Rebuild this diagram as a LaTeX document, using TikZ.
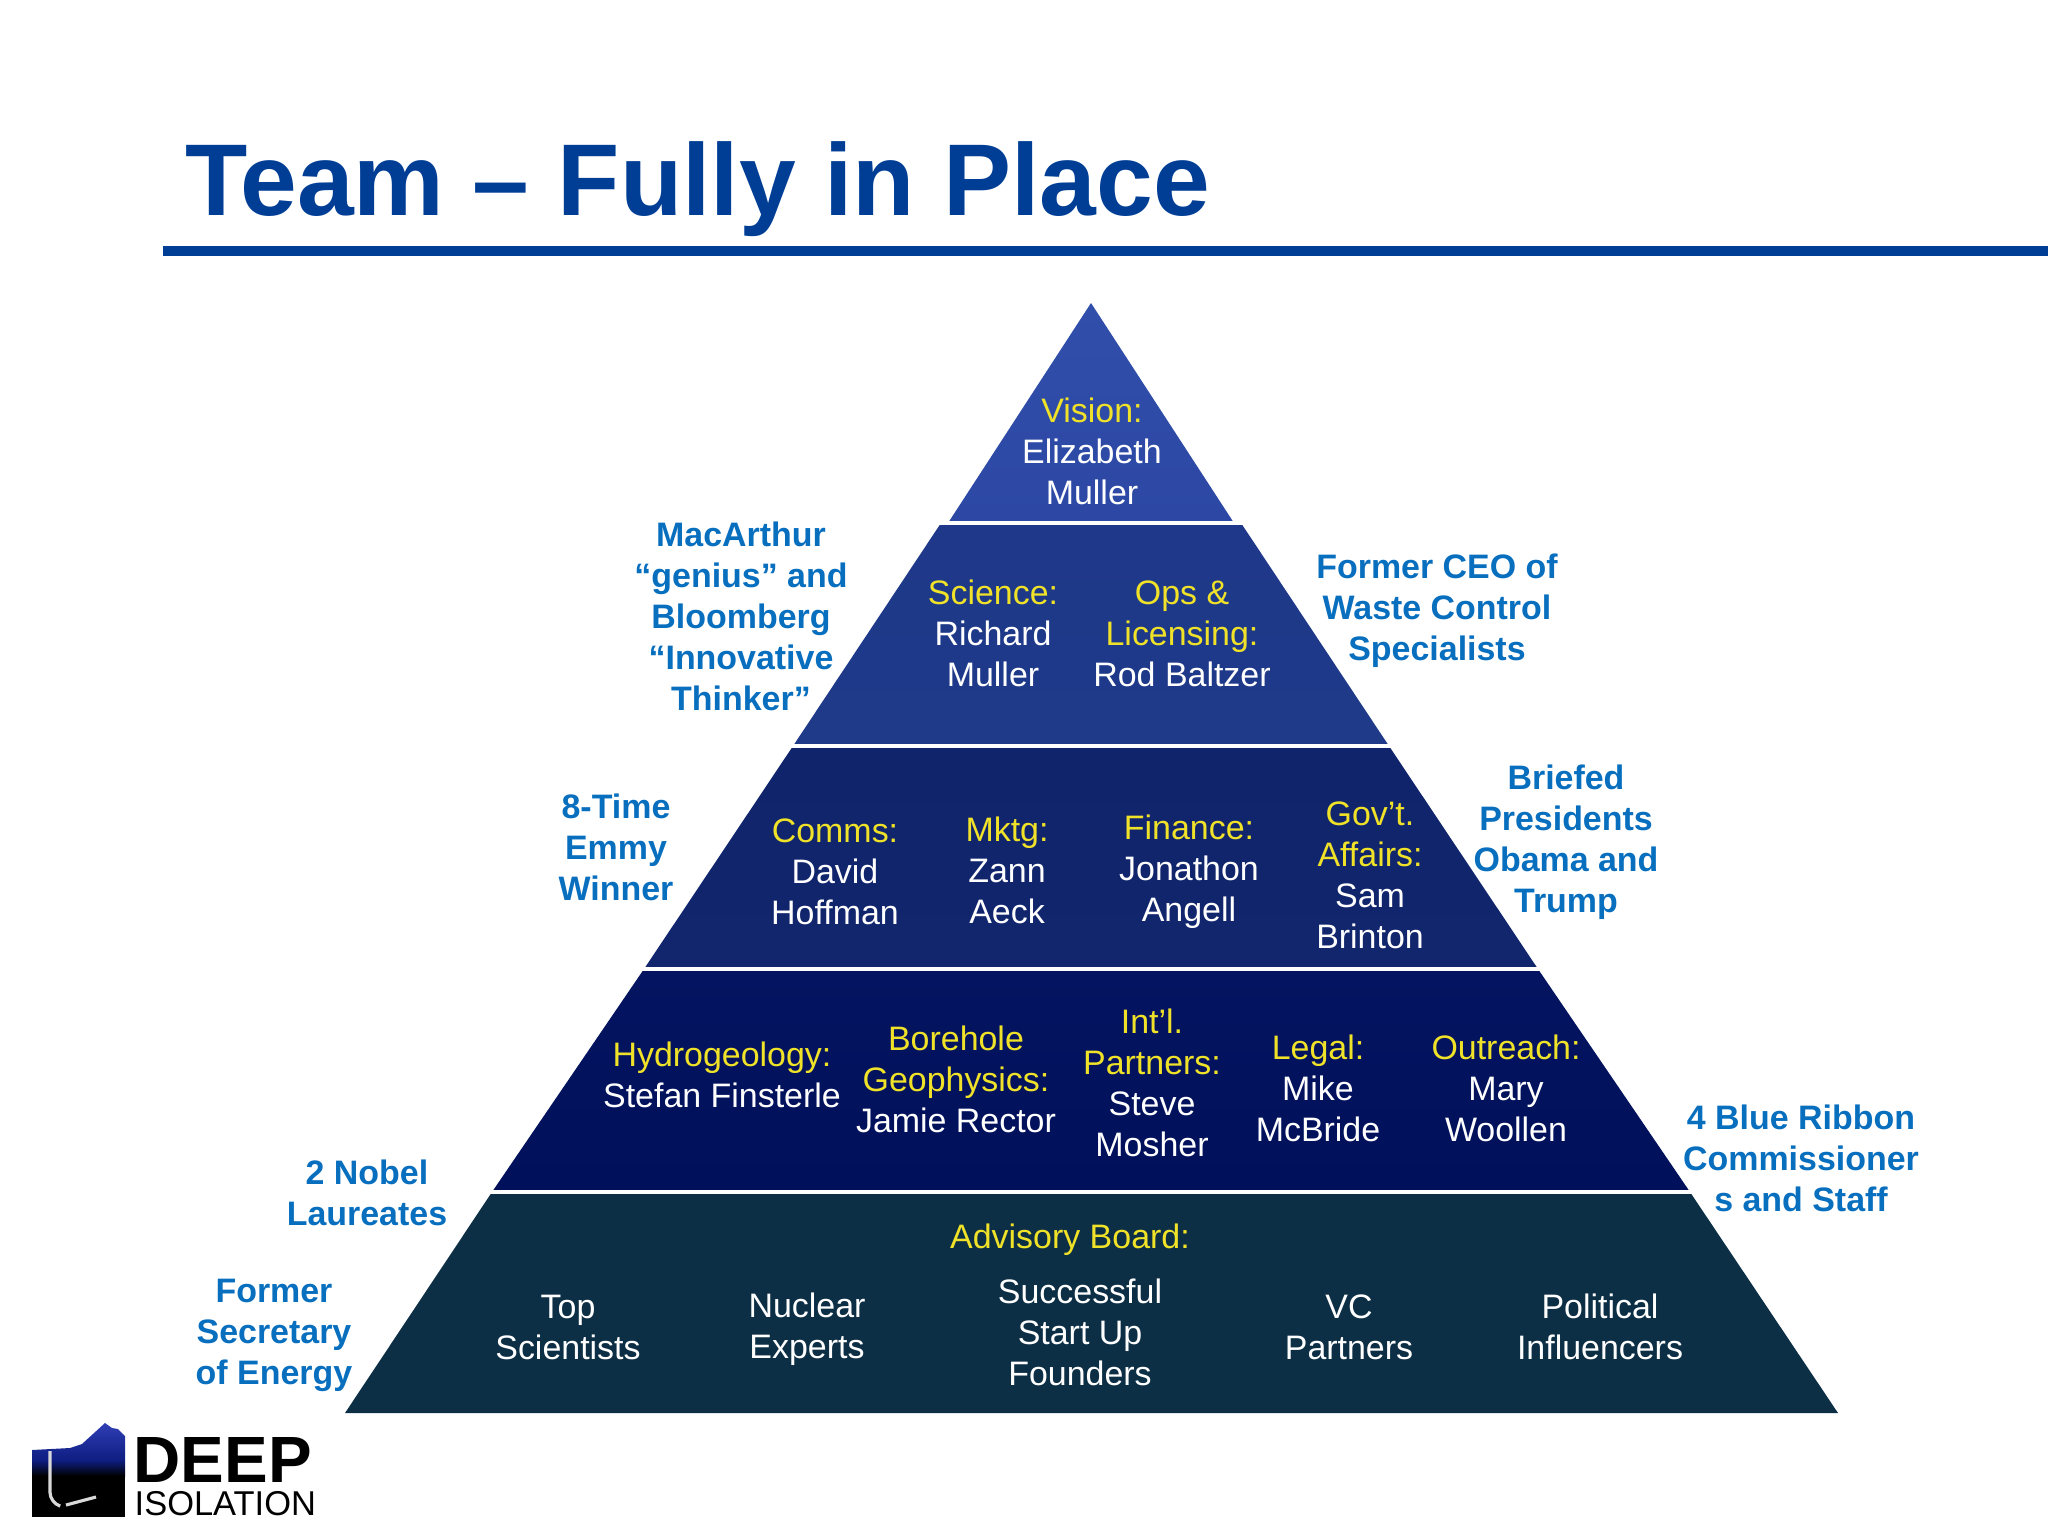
\documentclass[tikz,border=0pt]{standalone}
\usepackage{fontspec}
\setmainfont{Liberation Sans}
\usepackage{tikz}
\usetikzlibrary{positioning,calc}
\definecolor{titleblue}{RGB}{0, 62, 150}
\definecolor{sideblue}{RGB}{8, 110, 190}
\definecolor{gold}{RGB}{240, 226, 40}
\definecolor{tierA}{RGB}{48, 78, 170}
\definecolor{tierAb}{RGB}{44, 72, 164}
\definecolor{tierB}{RGB}{31, 56, 138}
\definecolor{tierBb}{RGB}{30, 58, 136}
\definecolor{tierC}{RGB}{16, 36, 108}
\definecolor{tierCb}{RGB}{18, 38, 110}
\definecolor{tierD}{RGB}{4, 20, 96}
\definecolor{tierDb}{RGB}{0, 16, 90}
\definecolor{tierE}{RGB}{13, 47, 69}
\definecolor{logoblue}{RGB}{48, 62, 180}
\definecolor{logomid}{RGB}{14, 30, 130}
\newcommand{\lead}[1]{{\color{gold}#1}\\}

\begin{document}
\begin{tikzpicture}[
    x=0.01cm, y=-0.01cm,
    tier/.style={draw=none, shading=axis, shading angle=0},
    who/.style={align=center, text=white, inner sep=0pt, font=\fontsize{9.65}{11.65}\selectfont},
    side/.style={align=center, text=sideblue, inner sep=0pt, font=\fontsize{9.65}{11.65}\selectfont\bfseries},
    sep/.style={white, line width=0.9pt}
]
\useasboundingbox (0,0) rectangle (2048,1536);

% Title
\node[anchor=base west, inner sep=0pt, text=titleblue, font=\fontsize{29}{30}\selectfont\bfseries] (title) at (185,215) {Team – Fully in Place};
\fill[titleblue] (163,246) rectangle (2048,256);

% Pyramid tiers
\path[tier, top color=tierA, bottom color=tierAb] (1091,303) -- (1234,523) -- (948,523) -- cycle;
\path[tier, top color=tierB, bottom color=tierBb] (941,523) -- (1241,523) -- (1389,746) -- (793,746) -- cycle;
\path[tier, top color=tierC, bottom color=tierCb] (793,746) -- (1389,746) -- (1538,969) -- (644,969) -- cycle;
\path[tier, top color=tierD, bottom color=tierDb] (644,969) -- (1538,969) -- (1690,1192) -- (492,1192) -- cycle;
\fill[tierE] (492,1192) -- (1690,1192) -- (1838,1413) -- (345,1413) -- cycle;

% Separators
\draw[sep] (930,523) -- (1252,523);
\draw[sep] (790,746) -- (1392,746);
\draw[sep] (640,969) -- (1542,969);
\draw[sep] (488,1192) -- (1694,1192);

% Tier 1
\node[who] (vision) at (1092,451) {\lead{Vision:}Elizabeth\\Muller};

% Tier 2
\node[who] (science) at (993,633) {\lead{Science:}Richard\\Muller};
\node[who] (ops) at (1182,634) {\lead{Ops \&}\lead{Licensing:}Rod Baltzer};

% Tier 3
\node[who] (comms) at (835,872) {\lead{Comms:}David\\Hoffman};
\node[who] (mktg) at (1007,870) {\lead{Mktg:}Zann\\Aeck};
\node[who] (finance) at (1189,872) {\lead{Finance:}Jonathon\\Angell};
\node[who] (govt) at (1370,875) {\lead{Gov’t.}\lead{Affairs:}Sam\\Brinton};

% Tier 4
\node[who] (hydro) at (722,1075) {\lead{Hydrogeology:}Stefan Finsterle};
\node[who] (bore) at (956,1079) {\lead{Borehole}\lead{Geophysics:}Jamie Rector};
\node[who] (intl) at (1152,1083) {\lead{Int’l.}\lead{Partners:}Steve\\Mosher};
\node[who] (legal) at (1318,1088) {\lead{Legal:}Mike\\McBride};
\node[who] (outreach) at (1506,1088) {\lead{Outreach:}Mary\\Woollen};

% Tier 5
\node[who, text=gold] (board) at (1070,1240) {Advisory Board:};
\node[who] (top) at (568,1327) {Top\\Scientists};
\node[who] (nuclear) at (807,1329) {Nuclear\\Experts};
\node[who] (startup) at (1080,1332) {Successful\\Start Up\\Founders};
\node[who] (vc) at (1349,1327) {VC\\Partners};
\node[who] (political) at (1600,1327) {Political\\Influencers};

% Side labels
\node[side] (genius) at (741,616) {MacArthur\\“genius” and\\Bloomberg\\“Innovative\\Thinker”};
\node[side] (ceo) at (1437,611) {Former CEO of\\Waste Control\\Specialists};
\node[side] (emmy) at (616,847) {8-Time\\Emmy\\Winner};
\node[side] (briefed) at (1566,842) {Briefed\\Presidents\\Obama and\\Trump};
\node[side] (nobel) at (367,1193) {2 Nobel\\Laureates};
\node[side] (energy) at (274,1335) {Former\\Secretary\\of Energy};
\node[side] (ribbon) at (1801,1158) {4 Blue Ribbon\\Commissioner\\s and Staff};

% Logo
\fill[black] (32,1476) rectangle (125,1517);
\path[tier, top color=logoblue, bottom color=logomid]
    (32,1450) -- (70,1448) -- (82,1444) -- (105,1423) -- (112,1428) -- (118,1429) -- (125,1436)
    -- (125,1460) -- (32,1460) -- cycle;
\path[tier, top color=logomid, bottom color=black] (32,1460) rectangle (125,1476);
\draw[white!85!black, line width=0.9pt, rounded corners=3pt] (50,1451) -- (50,1503) -- (60,1506);
\draw[white!85!black, line width=0.9pt] (66,1505) -- (96,1497);
\node[anchor=base west, inner sep=0pt, font=\fontsize{18.6}{20}\selectfont\bfseries] (deep) at (133,1482) {DEEP};
\node[anchor=base west, inner sep=0pt, font=\fontsize{9.8}{10}\selectfont] (isolation) at (134,1515) {ISOLATION};
\end{tikzpicture}
\end{document}
